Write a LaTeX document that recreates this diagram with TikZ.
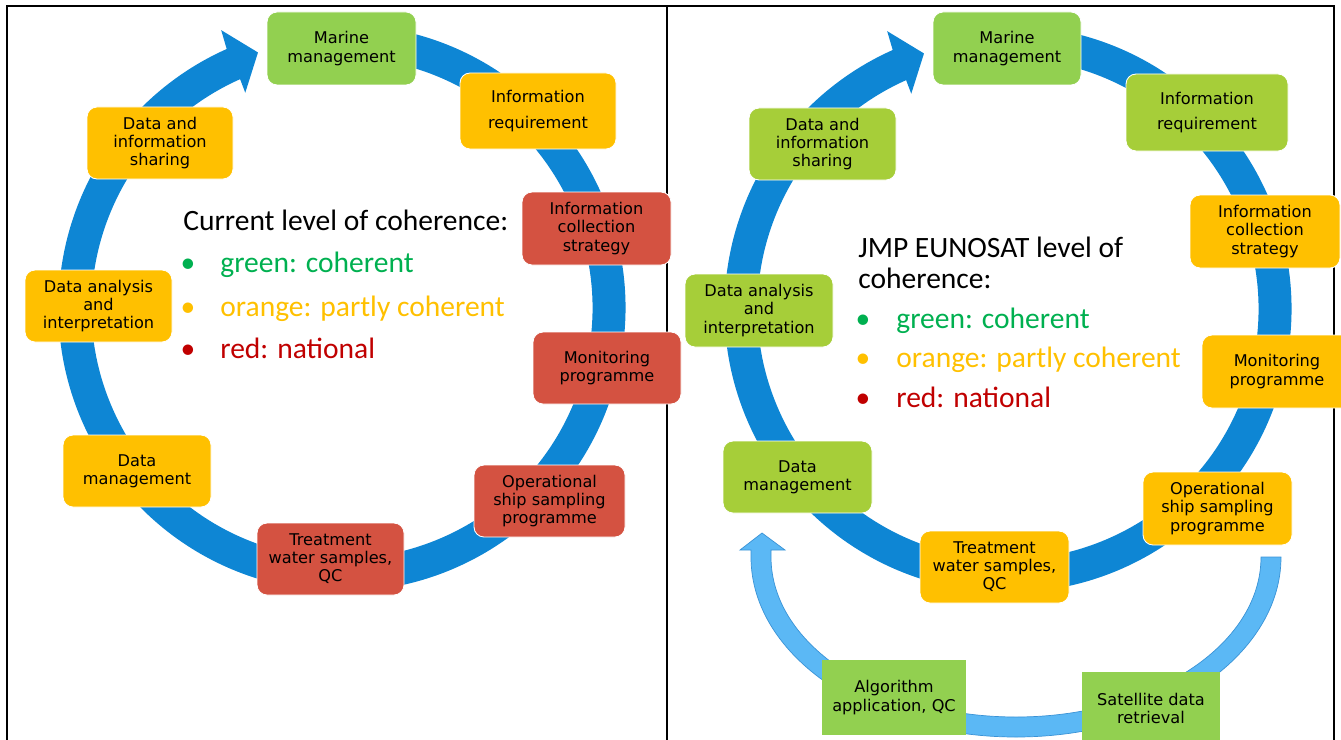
\documentclass[tikz,border=0pt]{standalone}
\usepackage{fontspec}
\setmainfont{DejaVu Sans}
\newfontfamily\legfont{Carlito}
\usetikzlibrary{calc}
\definecolor{ringblue}{HTML}{0E86D4}
\definecolor{lightblue}{HTML}{5BB8F5}
\definecolor{lightblueedge}{HTML}{3A93D6}
\definecolor{gA}{HTML}{92D050}
\definecolor{gB}{HTML}{A6CE39}
\definecolor{orng}{HTML}{FFC000}
\definecolor{rd}{HTML}{D45241}
\definecolor{lgreen}{HTML}{00B050}
\definecolor{lorange}{HTML}{FFC000}
\definecolor{lred}{HTML}{C00000}
\begin{document}
\begin{tikzpicture}[x=0.2mm,y=-0.2mm,
  box/.style={rounded corners=2mm, draw=white, line width=0.5pt, align=center, inner sep=0pt, font=\fontsize{9.2}{10.3}\selectfont, text=black},
  sqbox/.style={box, rounded corners=0pt, draw=none},
  wh/.style 2 args={minimum width=#1*0.2mm, minimum height=#2*0.2mm},
  leg/.style={font=\legfont\fontsize{16.8}{20}\selectfont, inner sep=0pt},
  frameline/.style={line width=0.5mm, black}]
\useasboundingbox (0,0) rectangle (1341,740);
\clip (0,0) rectangle (1341,740);
% frame
\draw[frameline] (7,760) -- (7,6) -- (1334,6) -- (1334,760);
\draw[frameline] (667,6) -- (667,760);
% rings
\coordinate (LC) at (342,308);
\coordinate (RC) at (1008,309);
\fill[ringblue] ($(LC)+(-80:283.5)$) arc[start angle=-80, end angle=246, radius=283.5]
  -- ($(LC)+(246.5:303)$) -- ($(LC)+(251.8:269)$) -- ($(LC)+(245.8:236)$)
  -- ($(LC)+(246:250.5)$) arc[start angle=246, end angle=-80, radius=250.5] -- cycle;
\fill[ringblue] ($(RC)+(-80:283.5)$) arc[start angle=-80, end angle=246, radius=283.5]
  -- ($(RC)+(246.5:303)$) -- ($(RC)+(251.8:269)$) -- ($(RC)+(245.8:236)$)
  -- ($(RC)+(246:250.5)$) arc[start angle=246, end angle=-80, radius=250.5] -- cycle;
% light blue return arrow
\filldraw[fill=lightblue, draw=lightblueedge, line width=0.4pt]
  (1261,557) -- (1281,557) arc[start angle=0, end angle=180, x radius=265, y radius=180]
  -- (751,550) -- (740,550) -- (762,533) -- (785,550) -- (771,550) -- (771,557)
  arc[start angle=180, end angle=0, x radius=245, y radius=160] -- cycle;
% left panel nodes
\node[box, fill=gA, wh={149}{73}] (lmm) at (341.5,48.5) {Marine\\management};
\node[box, fill=orng, wh={156}{76}] (lir) at (538,111) {Information\\[4pt]requirement};
\node[box, fill=rd, wh={149}{73}] (lics) at (596.5,228.5) {Information\\collection\\strategy};
\node[box, fill=rd, wh={148}{72}] (lmp) at (607,368) {Monitoring\\programme};
\node[box, fill=rd, wh={151}{72}] (losp) at (549.5,501) {Operational\\ship sampling\\programme};
\node[box, fill=rd, wh={147}{72}] (ltw) at (330.5,559) {Treatment\\water samples,\\QC};
\node[box, fill=orng, wh={148}{72}] (ldm) at (137,471) {Data\\management};
\node[box, fill=orng, wh={147}{72}] (lda) at (98.5,306) {Data analysis\\and\\interpretation};
\node[box, fill=orng, wh={146}{72}] (lds) at (160,143) {Data and\\information\\sharing};
% right panel nodes
\node[box, fill=gA, wh={148}{73}] (rmm) at (1007,48.5) {Marine\\management};
\node[box, fill=gB, wh={162}{77}] (rir) at (1207,112.5) {Information\\[4pt]requirement};
\node[box, fill=orng, wh={150}{73}] (rics) at (1265,231.5) {Information\\collection\\strategy};
\node[box, fill=orng, wh={150}{73}] (rmp) at (1277,371.5) {Monitoring\\programme};
\node[box, fill=orng, wh={149}{73}] (rosp) at (1217.5,508.5) {Operational\\ship sampling\\programme};
\node[box, fill=orng, wh={149}{72}] (rtw) at (994.5,567) {Treatment\\water samples,\\QC};
\node[box, fill=gB, wh={149}{72}] (rdm) at (797.5,477) {Data\\management};
\node[box, fill=gB, wh={148}{73}] (rda) at (759,310.5) {Data analysis\\and\\interpretation};
\node[box, fill=gB, wh={147}{72}] (rds) at (822.5,144) {Data and\\information\\sharing};
\node[sqbox, fill=gA, wh={144}{75}] (ralg) at (894,697.5) {Algorithm\\application, QC};
\node[sqbox, fill=gA, wh={138}{73}] (rsat) at (1151,708.5) {Satellite data\\retrieval};
% left legend
\node[leg, anchor=base west] (lhead) at (183,230) {Current level of coherence:};
\node[leg, text=lgreen, anchor=base] (lb1) at (188,272) {•};
\node[leg, text=lgreen, anchor=base west] (lt1) at (220,272) {green: coherent};
\node[leg, text=lorange, anchor=base] (lb2) at (188,316) {•};
\node[leg, text=lorange, anchor=base west] (lt2) at (220,316) {orange: partly coherent};
\node[leg, text=lred, anchor=base] (lb3) at (188,358) {•};
\node[leg, text=lred, anchor=base west] (lt3) at (220,358) {red: national};
% right legend
\node[leg, anchor=base west] (rhead1) at (858,257) {JMP EUNOSAT level of};
\node[leg, anchor=base west] (rhead2) at (858,288) {coherence:};
\node[leg, text=lgreen, anchor=base] (rb1) at (863,328) {•};
\node[leg, text=lgreen, anchor=base west] (rt1) at (896,328) {green: coherent};
\node[leg, text=lorange, anchor=base] (rb2) at (863,367) {•};
\node[leg, text=lorange, anchor=base west] (rt2) at (896,367) {orange: partly coherent};
\node[leg, text=lred, anchor=base] (rb3) at (863,407) {•};
\node[leg, text=lred, anchor=base west] (rt3) at (896,407) {red: national};
\end{tikzpicture}
\end{document}
